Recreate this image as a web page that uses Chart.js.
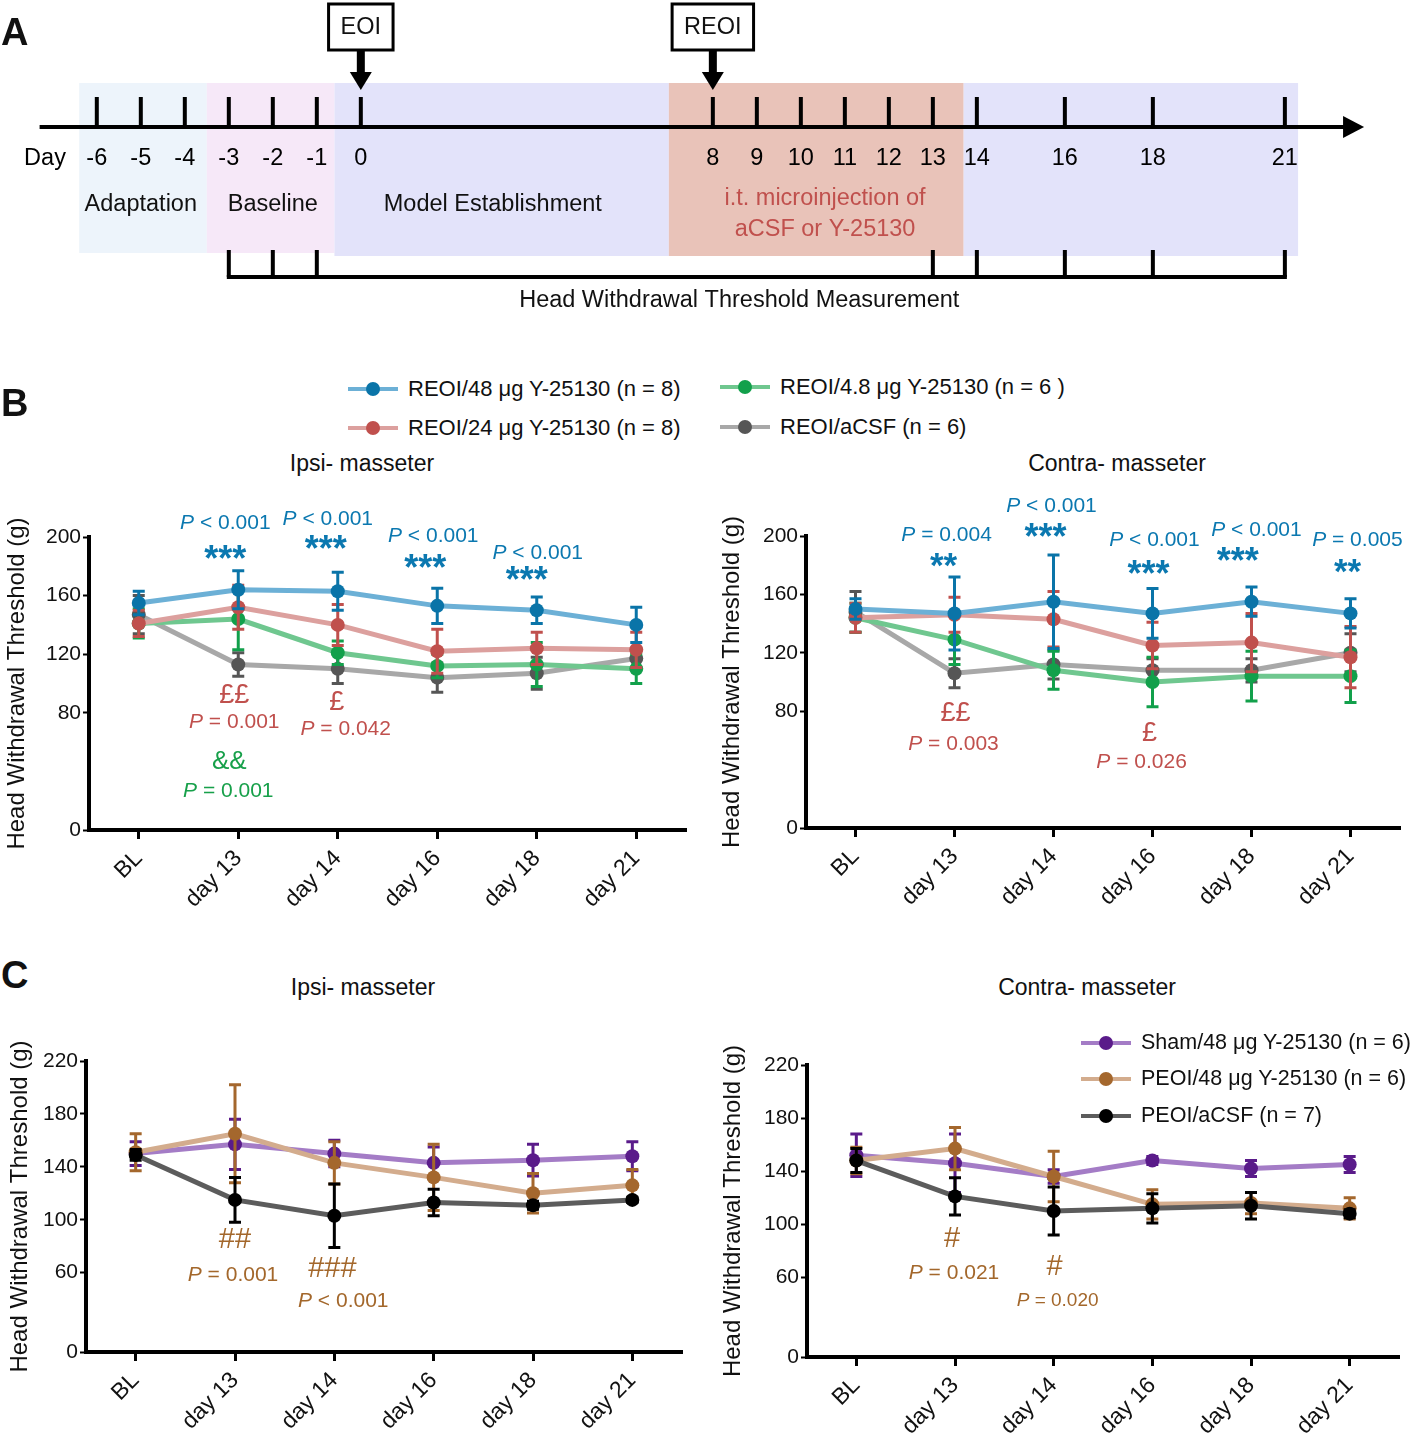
<!DOCTYPE html>
<html>
<head>
<meta charset="utf-8">
<script src="https://cdn.jsdelivr.net/npm/chart.js@4.4.1/dist/chart.umd.min.js"></script>
<style>
  body { margin: 0; background: #fff; }
  #page { position: relative; width: 1416px; height: 1440px; overflow: hidden;
          font-family: 'Liberation Sans', Arial, Helvetica, sans-serif; color: #111; }
  canvas { position: absolute; }
  .t { position: absolute; white-space: nowrap; line-height: 1; transform: translate(-50%, -50%); z-index: 2; }
  .letter { position: absolute; font-weight: bold; font-size: 38px; line-height: 1; z-index: 2; }
  .leg { position: absolute; height: 0; z-index: 2; }
  .leg .ln { position: absolute; left: 0; top: -2px; width: 50px; height: 4px; }
  .leg .dot { position: absolute; left: 18px; top: -7px; width: 14px; height: 14px; border-radius: 50%; }
  .leg .lbl { position: absolute; top: 0; font-size: 22px; line-height: 1; white-space: nowrap; transform: translateY(-50%); }
</style>
</head>
<body>
<div id="page">
  <canvas id="timeline" width="1416" height="320" style="left:0;top:0"></canvas>
  <canvas id="bIpsi" width="700" height="430" style="left:0;top:480px"></canvas>
  <canvas id="bContra" width="716" height="430" style="left:700px;top:480px"></canvas>
  <canvas id="cIpsi" width="700" height="440" style="left:0;top:1000px"></canvas>
  <canvas id="cContra" width="716" height="440" style="left:700px;top:1000px"></canvas>

  <div class="letter" style="left:1px;top:13px">A</div>
  <div class="letter" style="left:1px;top:384px">B</div>
  <div class="letter" style="left:1px;top:956px">C</div>

  <div class="t" style="left:362px;top:463px;font-size:23px">Ipsi- masseter</div>
  <div class="t" style="left:1117px;top:463px;font-size:23px">Contra- masseter</div>
  <div class="t" style="left:363px;top:987px;font-size:23px">Ipsi- masseter</div>
  <div class="t" style="left:1087px;top:987px;font-size:23px">Contra- masseter</div>
</div>

<script>
// ---------- panel A: timeline ----------
const DAYS = [-6, -5, -4, -3, -2, -1, 0, 8, 9, 10, 11, 12, 13, 14, 16, 18, 21];
const MEASURE_DAYS = [-3, -2, -1, 13, 14, 16, 18, 21];
const MEASURE_LABEL_AT = 8.6;
const PHASES = ['Adaptation', 'Baseline', 'Model Establishment', 'i.t. microinjection of\naCSF or Y-25130', ''];
const PHASE_START = [-6.4, -3.5, -0.6, 7.0, 13.7];
const PHASE_END = [-3.5, -0.6, 7.0, 13.7, 21.3];
const PHASE_LABEL_AT = [-5, -2, 3, 10.55, null];
const EVENTS = ['EOI', 'REOI'];
const EVENT_DAYS = [0, 8];

// ---------- panels B and C: head withdrawal threshold ----------
const DAY_LABELS = ['BL', 'day 13', 'day 14', 'day 16', 'day 18', 'day 21'];
const Y_TICKS_B = [0, 80, 120, 160, 200];
const Y_TICKS_C = [0, 60, 100, 140, 180, 220];

const B_NAMES = ['REOI/48 μg Y-25130 (n = 8)', 'REOI/24 μg Y-25130 (n = 8)',
                 'REOI/4.8 μg Y-25130 (n = 6 )', 'REOI/aCSF (n = 6)'];
const C_NAMES = ['Sham/48 μg Y-25130 (n = 6)', 'PEOI/48 μg Y-25130 (n = 6)', 'PEOI/aCSF (n = 7)'];

// B, ipsi
const bIpsi48 = [155, 164, 163, 153, 150, 140];
const bIpsi48Err = [8, 13, 13, 12, 9, 12];
const bIpsi24 = [141, 152, 140, 122, 124, 123];
const bIpsi24Err = [9, 15, 14, 15, 11, 12];
const bIpsi4 = [141, 144, 121, 112, 113, 110];
const bIpsi4Err = [10, 21, 8, 8, 15, 10];
const bIpsiCsf = [147, 113, 110, 104, 107, 117];
const bIpsiCsfErr = [13, 8, 10, 10, 11, 6];
// B, contra
const bContra48 = [150, 147, 155, 147, 155, 147];
const bContra48Err = [7, 25, 32, 17, 10, 10];
const bContra24 = [144, 146, 143, 125, 127, 117];
const bContra24Err = [10, 12, 19, 16, 20, 21];
const bContra4 = [144, 129, 108, 100, 104, 104];
const bContra4Err = [10, 17, 13, 17, 17, 18];
const bContraCsf = [148, 106, 112, 108, 108, 120];
const bContraCsfErr = [14, 10, 10, 8, 8, 13];
// C, ipsi
const cIpsiSham = [150, 157, 150, 143, 145, 148];
const cIpsiShamErr = [9, 19, 10, 12, 12, 11];
const cIpsi48 = [151, 165, 143, 132, 120, 126];
const cIpsi48Err = [14, 37, 16, 25, 15, 12];
const cIpsiCsf = [149, 115, 103, 113, 111, 115];
const cIpsiCsfErr = [4, 17, 24, 10, 3, 2];
// C, contra
const cContraSham = [152, 146, 136, 148, 142, 145];
const cContraShamErr = [16, 22, 5, 3, 6, 6];
const cContra48 = [148, 157, 136, 115, 116, 112];
const cContra48Err = [10, 16, 19, 11, 8, 8];
const cContraCsf = [148, 121, 110, 112, 114, 108];
const cContraCsfErr = [9, 14, 18, 11, 10, 3];

const SANS = "'Liberation Sans', Arial, Helvetica, sans-serif";
const BLUE = '#0b78b0', RED = '#c0504d', GREEN = '#17a04a', BROWN = '#a3672b';

// line colour / marker colour per group
const B_STYLE = [
  { line: '#6cb0d6', mark: '#0a74a8' },
  { line: '#dca09e', mark: '#c0504d' },
  { line: '#6fc78f', mark: '#12a04b' },
  { line: '#a8a8a8', mark: '#565656' }
];
const C_STYLE = [
  { line: '#a47cc6', mark: '#5a1b8a' },
  { line: '#d3ac8d', mark: '#a4672d' },
  { line: '#5c5c5c', mark: '#000000' }
];

// ---------- legends (html) ----------
function legendItem(x, y, name, st, size) {
  const d = document.createElement('div');
  d.className = 'leg';
  d.style.left = x + 'px';
  d.style.top = y + 'px';
  d.innerHTML = '<div class="ln" style="background:' + st.line + '"></div>' +
    '<div class="dot" style="background:' + st.mark + '"></div>' +
    '<div class="lbl" style="left:60px;font-size:' + (size || 22) + 'px">' + name + '</div>';
  document.getElementById('page').appendChild(d);
}
legendItem(348, 389, B_NAMES[0], B_STYLE[0]);
legendItem(348, 428, B_NAMES[1], B_STYLE[1]);
legendItem(720, 387, B_NAMES[2], B_STYLE[2]);
legendItem(720, 427, B_NAMES[3], B_STYLE[3]);
legendItem(1081, 1043, C_NAMES[0], C_STYLE[0], 21.5);
legendItem(1081, 1079, C_NAMES[1], C_STYLE[1], 21.5);
legendItem(1081, 1116, C_NAMES[2], C_STYLE[2], 21.5);

// ---------- timeline chart ----------
const PHASE_COLORS = ['#edf4fb', '#f6e8f8', '#e3e3fa', '#e9c3b9', '#e3e3fa'];

const timelinePlugin = {
  id: 'timeline',
  afterDraw(chart) {
    const ctx = chart.ctx;
    const sx = chart.scales.x;
    const px = d => sx.getPixelForValue(d);
    ctx.save();
    PHASE_START.forEach((s, i) => {
      ctx.fillStyle = PHASE_COLORS[i];
      ctx.fillRect(px(s), 83, px(PHASE_END[i]) - px(s), i < 2 ? 170 : 173);
    });

    ctx.strokeStyle = '#000';
    ctx.fillStyle = '#000';
    ctx.lineWidth = 4;
    // main arrow
    const tip = px(22.8);
    ctx.beginPath();
    ctx.moveTo(px(-7.3), 127);
    ctx.lineTo(tip - 16, 127);
    ctx.stroke();
    ctx.beginPath();
    ctx.moveTo(tip, 127);
    ctx.lineTo(tip - 21, 116);
    ctx.lineTo(tip - 21, 138);
    ctx.closePath();
    ctx.fill();

    // day ticks and labels
    ctx.font = '23.5px ' + SANS;
    ctx.textAlign = 'center';
    ctx.textBaseline = 'middle';
    DAYS.forEach(d => {
      ctx.beginPath();
      ctx.moveTo(px(d), 97);
      ctx.lineTo(px(d), 127);
      ctx.stroke();
      ctx.fillText(String(d), px(d), 159);
    });
    ctx.fillText('Day', 45, 159);

    // phase labels
    PHASES.forEach((p, i) => {
      if (!p) return;
      const lines = p.split('\n');
      if (lines.length === 1) {
        ctx.fillStyle = '#111';
        ctx.fillText(p, px(PHASE_LABEL_AT[i]), 205);
      } else {
        ctx.fillStyle = RED;
        ctx.fillText(lines[0], px(PHASE_LABEL_AT[i]), 199);
        ctx.fillText(lines[1], px(PHASE_LABEL_AT[i]), 230);
      }
    });

    // EOI / REOI boxes with arrows
    ctx.fillStyle = '#000';
    ctx.lineWidth = 3;
    EVENTS.forEach((e, i) => {
      const cx = px(EVENT_DAYS[i]);
      const w = ctx.measureText(e).width + 24;
      ctx.fillStyle = '#fff';
      ctx.fillRect(cx - w / 2, 4, w, 46);
      ctx.strokeRect(cx - w / 2, 4, w, 46);
      ctx.fillStyle = '#111';
      ctx.fillText(e, cx, 28);
      ctx.fillStyle = '#000';
      ctx.fillRect(cx - 4, 50, 8, 24);
      ctx.beginPath();
      ctx.moveTo(cx - 11, 72);
      ctx.lineTo(cx + 11, 72);
      ctx.lineTo(cx, 90);
      ctx.closePath();
      ctx.fill();
    });

    // measurement bracket
    ctx.lineWidth = 4;
    const a = px(MEASURE_DAYS[0]), b = px(MEASURE_DAYS[MEASURE_DAYS.length - 1]);
    ctx.beginPath();
    ctx.moveTo(a - 2, 277);
    ctx.lineTo(b + 2, 277);
    ctx.stroke();
    MEASURE_DAYS.forEach(d => {
      ctx.beginPath();
      ctx.moveTo(px(d), 250);
      ctx.lineTo(px(d), 277);
      ctx.stroke();
    });
    ctx.fillStyle = '#111';
    ctx.fillText('Head Withdrawal Threshold Measurement', px(MEASURE_LABEL_AT), 301);
    ctx.restore();
  }
};

new Chart(document.getElementById('timeline'), {
  type: 'scatter',
  data: { datasets: [] },
  options: {
    responsive: false, animation: false, events: [],
    layout: { padding: 0 },
    plugins: { legend: { display: false }, tooltip: { enabled: false } },
    scales: {
      x: { type: 'linear', min: -8.2, max: 23.98, display: false },
      y: { min: 0, max: 1, display: false }
    }
  },
  plugins: [timelinePlugin]
});

// ---------- line charts ----------
const errorBars = {
  id: 'errorBars',
  beforeDatasetDraw(chart, args) {
    const ds = chart.data.datasets[args.index];
    if (!ds.errors) return;
    const ctx = chart.ctx, y = chart.scales.y;
    ctx.save();
    ctx.strokeStyle = ds.pointBackgroundColor;
    ctx.lineWidth = 3;
    args.meta.data.forEach((pt, j) => {
      const v = ds.data[j], e = ds.errors[j];
      const y1 = y.getPixelForValue(v + e), y0 = y.getPixelForValue(v - e);
      ctx.beginPath();
      ctx.moveTo(pt.x, y0); ctx.lineTo(pt.x, y1);
      ctx.moveTo(pt.x - 6, y0); ctx.lineTo(pt.x + 6, y0);
      ctx.moveTo(pt.x - 6, y1); ctx.lineTo(pt.x + 6, y1);
      ctx.stroke();
    });
    ctx.restore();
  }
};

const notes = {
  id: 'notes',
  afterDraw(chart, args, opts) {
    const ctx = chart.ctx, sx = chart.scales.x, sy = chart.scales.y;
    ctx.save();
    ctx.textBaseline = 'alphabetic';
    (opts.items || []).forEach(n => {
      const x = sx.getPixelForValue(n.i), y = sy.getPixelForValue(n.v);
      const size = n.s || 21;
      ctx.fillStyle = n.c;
      if (n.t.startsWith('P ')) {
        const rest = n.t.slice(1);
        const fi = 'italic ' + size + 'px ' + SANS, fn = size + 'px ' + SANS;
        ctx.font = fi; const wp = ctx.measureText('P').width;
        ctx.font = fn; const wr = ctx.measureText(rest).width;
        const x0 = x - (wp + wr) / 2, base = y + size * 0.36;
        ctx.textAlign = 'left';
        ctx.font = fi; ctx.fillText('P', x0, base);
        ctx.font = fn; ctx.fillText(rest, x0 + wp, base);
      } else if (n.t.startsWith('*')) {
        ctx.font = 'bold ' + size + 'px ' + SANS;
        ctx.textAlign = 'center';
        ctx.fillText(n.t, x, y + size * 0.59);
      } else {
        ctx.font = size + 'px ' + SANS;
        ctx.textAlign = 'center';
        ctx.fillText(n.t, x, y + size * 0.36);
      }
    });
    ctx.restore();
  }
};

function lineChart(id, names, values, errors, styles, opt) {
  return new Chart(document.getElementById(id), {
    type: 'line',
    data: {
      labels: DAY_LABELS,
      datasets: names.map((name, k) => ({
        label: name,
        data: values[k],
        errors: errors[k],
        order: opt.order ? opt.order[k] : 0,
        borderColor: styles[k].line,
        backgroundColor: styles[k].mark,
        pointBackgroundColor: styles[k].mark,
        pointBorderColor: styles[k].mark,
        borderWidth: 5,
        pointRadius: 7,
        pointBorderWidth: 0,
        tension: 0
      }))
    },
    options: {
      responsive: false, animation: false, events: [],
      layout: { padding: { left: opt.padLeft, right: opt.padRight, top: opt.padTop, bottom: 0 } },
      plugins: { legend: { display: false }, tooltip: { enabled: false }, notes: { items: opt.notes } },
      scales: {
        x: {
          type: 'category', offset: true,
          grid: { display: true, drawOnChartArea: false, offset: false, tickLength: 9, tickWidth: 3, tickColor: '#000' },
          border: { display: true, color: '#000', width: 4 },
          ticks: { color: '#111', font: { family: SANS, size: 23 }, minRotation: 45, maxRotation: 45, padding: 6 },
          afterFit(s) { s.height = opt.xH; s.paddingLeft = 0; s.paddingRight = 0; }
        },
        y: {
          min: 0, max: opt.yMax,
          afterBuildTicks(s) { s.ticks = opt.yTicks.map(v => ({ value: v })); },
          grid: { display: true, drawOnChartArea: false, tickLength: 6, tickWidth: 2, tickColor: '#000' },
          border: { display: true, color: '#000', width: 4 },
          ticks: { color: '#111', font: { family: SANS, size: 21 }, padding: 2 },
          title: { display: true, text: 'Head Withdrawal Threshold (g)', color: '#111',
                   font: { family: SANS, size: 24 }, padding: { top: 0, bottom: 0 } },
          afterFit(s) { s.width = opt.yW; s.paddingTop = 0; s.paddingBottom = 0; }
        }
      }
    },
    plugins: [errorBars, notes]
  });
}

lineChart('bIpsi', B_NAMES,
  [bIpsi48, bIpsi24, bIpsi4, bIpsiCsf],
  [bIpsi48Err, bIpsi24Err, bIpsi4Err, bIpsiCsfErr], B_STYLE, {
    padLeft: 3, yW: 86, padRight: 14, padTop: 57, xH: 80, yMax: 200, yTicks: Y_TICKS_B,
    notes: [
      { t: 'P < 0.001', i: 0.87, v: 210.6, c: BLUE }, { t: '***', i: 0.87, v: 191.5, c: BLUE, s: 36 },
      { t: 'P < 0.001', i: 1.90, v: 213.3, c: BLUE }, { t: '***', i: 1.88, v: 198.3, c: BLUE, s: 36 },
      { t: 'P < 0.001', i: 2.96, v: 201.7, c: BLUE }, { t: '***', i: 2.88, v: 185.3, c: BLUE, s: 36 },
      { t: 'P < 0.001', i: 4.01, v: 190.1, c: BLUE }, { t: '***', i: 3.90, v: 177.2, c: BLUE, s: 36 },
      { t: '££', i: 0.96, v: 93.4, c: RED, s: 27 }, { t: 'P = 0.001', i: 0.96, v: 75, c: RED },
      { t: '£', i: 1.99, v: 88.6, c: RED, s: 27 }, { t: 'P = 0.042', i: 2.08, v: 70.2, c: RED },
      { t: '&&', i: 0.91, v: 47.7, c: GREEN, s: 26 }, { t: 'P = 0.001', i: 0.90, v: 27.9, c: GREEN }
    ]
  });

lineChart('bContra', B_NAMES,
  [bContra48, bContra24, bContra4, bContraCsf],
  [bContra48Err, bContra24Err, bContra4Err, bContraCsfErr], B_STYLE, {
    padLeft: 18, yW: 88, padRight: 16, padTop: 56, xH: 82, yMax: 200, yTicks: Y_TICKS_B,
    notes: [
      { t: 'P = 0.004', i: 0.92, v: 201.7, c: BLUE }, { t: '**', i: 0.89, v: 186, c: BLUE, s: 35 },
      { t: 'P < 0.001', i: 1.98, v: 221.5, c: BLUE }, { t: '***', i: 1.92, v: 205.7, c: BLUE, s: 36 },
      { t: 'P < 0.001', i: 3.02, v: 198.3, c: BLUE }, { t: '***', i: 2.96, v: 180.5, c: BLUE, s: 36 },
      { t: 'P < 0.001', i: 4.05, v: 205.1, c: BLUE }, { t: '***', i: 3.86, v: 189.4, c: BLUE, s: 36 },
      { t: 'P = 0.005', i: 5.07, v: 198.3, c: BLUE }, { t: '**', i: 4.97, v: 181.9, c: BLUE, s: 35 },
      { t: '££', i: 1.01, v: 80, c: RED, s: 27 }, { t: 'P = 0.003', i: 0.99, v: 58.8, c: RED },
      { t: '£', i: 2.97, v: 66.3, c: RED, s: 27 }, { t: 'P = 0.026', i: 2.89, v: 46.5, c: RED }
    ]
  });

lineChart('cIpsi', C_NAMES,
  [cIpsiSham, cIpsi48, cIpsiCsf],
  [cIpsiShamErr, cIpsi48Err, cIpsiCsfErr], C_STYLE, {
    padLeft: 6, yW: 80, padRight: 18, padTop: 61, xH: 88, yMax: 220, yTicks: Y_TICKS_C, order: [3, 2, 1],
    notes: [
      { t: '##', i: 1.0, v: 86.8, c: BROWN, s: 29 }, { t: 'P = 0.001', i: 0.98, v: 59.6, c: BROWN },
      { t: '###', i: 1.98, v: 64.9, c: BROWN, s: 29 }, { t: 'P < 0.001', i: 2.09, v: 40, c: BROWN }
    ]
  });

lineChart('cContra', C_NAMES,
  [cContraSham, cContra48, cContraCsf],
  [cContraShamErr, cContra48Err, cContraCsfErr], C_STYLE, {
    padLeft: 19, yW: 88, padRight: 17, padTop: 65, xH: 83, yMax: 220, yTicks: Y_TICKS_C, order: [3, 2, 1],
    notes: [
      { t: '#', i: 0.97, v: 90.6, c: BROWN, s: 29 }, { t: 'P = 0.021', i: 0.99, v: 64.2, c: BROWN },
      { t: '#', i: 2.01, v: 69.4, c: BROWN, s: 29 }, { t: 'P = 0.020', i: 2.04, v: 43.8, c: BROWN, s: 19 }
    ]
  });
</script>
</body>
</html>
